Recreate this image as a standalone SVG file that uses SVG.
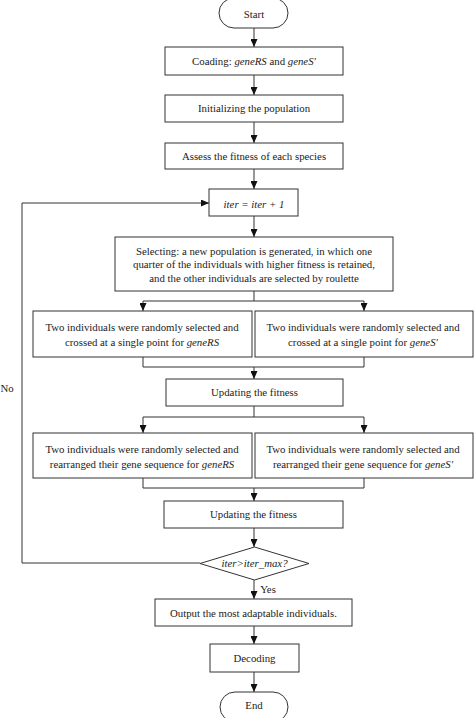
<svg xmlns="http://www.w3.org/2000/svg" width="474" height="718" viewBox="0 0 474 718">
<style>
.box{fill:#fff;stroke:#333;stroke-width:1}
.ln{fill:none;stroke:#333;stroke-width:1}
.t{font-family:"Liberation Serif","Times New Roman",serif;font-size:10.8px;fill:#222;text-anchor:middle}
.i{font-style:italic}
</style>
<defs>
<marker id="ah" markerUnits="userSpaceOnUse" markerWidth="8" markerHeight="7" refX="8" refY="3.5" orient="auto">
<path d="M0,0 L8,3.5 L0,7 z" fill="#111"/>
</marker>
</defs>
<rect width="474" height="718" fill="#fff"/>
<g id="connectors">
<path class="ln" d="M254,28 V47" marker-end="url(#ah)"/>
<path class="ln" d="M254,75 V95" marker-end="url(#ah)"/>
<path class="ln" d="M254,122 V143" marker-end="url(#ah)"/>
<path class="ln" d="M254,169 V189" marker-end="url(#ah)"/>
<path class="ln" d="M254,216 V237" marker-end="url(#ah)"/>
<path class="ln" d="M254,291 V301 M143,301 H364"/>
<path class="ln" d="M143,301 V311" marker-end="url(#ah)"/>
<path class="ln" d="M364,301 V311" marker-end="url(#ah)"/>
<path class="ln" d="M143,357 V367 H364 V357"/>
<path class="ln" d="M254,367 V379" marker-end="url(#ah)"/>
<path class="ln" d="M254,406 V417 M143,417 H364"/>
<path class="ln" d="M143,417 V433" marker-end="url(#ah)"/>
<path class="ln" d="M364,417 V433" marker-end="url(#ah)"/>
<path class="ln" d="M143,478 V488 H364 V478"/>
<path class="ln" d="M254,488 V501" marker-end="url(#ah)"/>
<path class="ln" d="M254,528 V547" marker-end="url(#ah)"/>
<path class="ln" d="M200,563 H22 V203 H209" marker-end="url(#ah)"/>
<path class="ln" d="M254,580 V599" marker-end="url(#ah)"/>
<path class="ln" d="M254,626 V644" marker-end="url(#ah)"/>
<path class="ln" d="M254,672 V692" marker-end="url(#ah)"/>
<text class="t" x="7" y="392">No</text>
<text class="t" x="268" y="593">Yes</text>
</g>
<g id="start">
<rect class="box" x="219" y="-2" width="69" height="30" rx="15"/>
<text class="t" x="254" y="18">Start</text>
</g>
<g id="coading">
<rect class="box" x="165" y="47" width="178" height="28"/>
<text class="t" x="254" y="65">Coading: <tspan class="i">geneRS</tspan> and <tspan class="i">geneS′</tspan></text>
</g>
<g id="init">
<rect class="box" x="165" y="95" width="178" height="27"/>
<text class="t" x="254" y="112">Initializing the population</text>
</g>
<g id="assess">
<rect class="box" x="165" y="143" width="178" height="26"/>
<text class="t" x="254" y="159.5">Assess the fitness of each species</text>
</g>
<g id="iter">
<rect class="box" x="209" y="189" width="89" height="27"/>
<text class="t i" x="254" y="207.5">iter = iter + 1</text>
</g>
<g id="select">
<rect class="box" x="115" y="237" width="278" height="54"/>
<text class="t" x="254" y="254.5">Selecting: a new population is generated, in which one</text>
<text class="t" x="254" y="268">quarter of the individuals with higher fitness is retained,</text>
<text class="t" x="254" y="281.5">and the other individuals are selected by roulette</text>
</g>
<g id="cross-rs">
<rect class="box" x="33" y="311" width="219" height="46"/>
<text class="t" x="142" y="330.5">Two individuals were randomly selected and</text>
<text class="t" x="142" y="345.5">crossed at a single point for <tspan class="i">geneRS</tspan></text>
</g>
<g id="cross-s">
<rect class="box" x="255" y="311" width="218" height="46"/>
<text class="t" x="363" y="330.5">Two individuals were randomly selected and</text>
<text class="t" x="363" y="345.5">crossed at a single point for <tspan class="i">geneS′</tspan></text>
</g>
<g id="update1">
<rect class="box" x="166" y="379" width="177" height="27"/>
<text class="t" x="254.5" y="396">Updating the fitness</text>
</g>
<g id="rearr-rs">
<rect class="box" x="33" y="433" width="219" height="45"/>
<text class="t" x="142" y="452.5">Two individuals were randomly selected and</text>
<text class="t" x="142" y="467.5">rearranged their gene sequence for <tspan class="i">geneRS</tspan></text>
</g>
<g id="rearr-s">
<rect class="box" x="255" y="433" width="218" height="45"/>
<text class="t" x="363" y="452.5">Two individuals were randomly selected and</text>
<text class="t" x="363" y="467.5">rearranged their gene sequence for <tspan class="i">geneS′</tspan></text>
</g>
<g id="update2">
<rect class="box" x="164" y="501" width="179" height="27"/>
<text class="t" x="253.5" y="518">Updating the fitness</text>
</g>
<g id="decision">
<polygon class="box" points="254.5,547 309,563.5 254.5,580 200,563.5"/>
<text class="t i" x="254.5" y="567">iter&gt;iter_max?</text>
</g>
<g id="output">
<rect class="box" x="155" y="599" width="197" height="27"/>
<text class="t" x="253.5" y="616.5">Output the most adaptable individuals.</text>
</g>
<g id="decoding">
<rect class="box" x="210" y="644" width="89" height="28"/>
<text class="t" x="254.5" y="662">Decoding</text>
</g>
<g id="end">
<rect class="box" x="220" y="692" width="68" height="30" rx="15"/>
<text class="t" x="254" y="709">End</text>
</g>
</svg>
